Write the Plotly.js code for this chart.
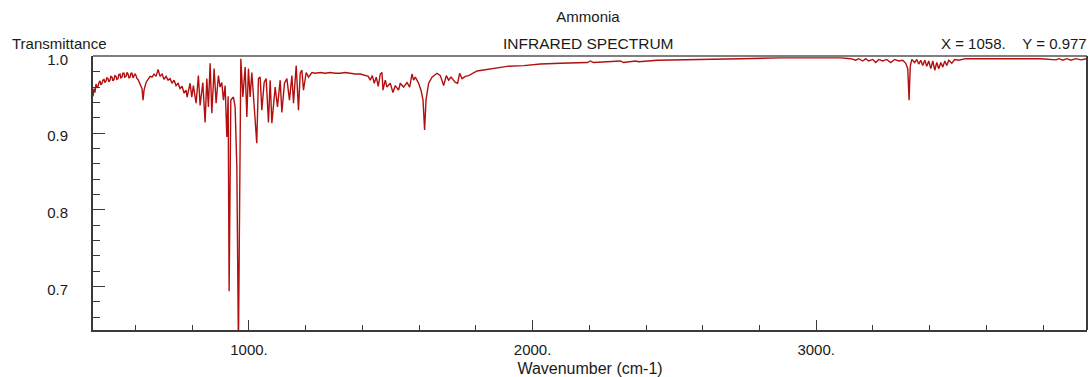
<!DOCTYPE html>
<html>
<head>
<meta charset="utf-8">
<script src="https://cdn.plot.ly/plotly-3.0.1.min.js"></script>
<style>
  html, body { margin: 0; padding: 0; background: #ffffff; }
  #chart { width: 1089px; height: 377px; }
</style>
</head>
<body>
<div id="chart"></div>
<script>
// Wavenumber (cm-1) values
const wavenumber = [
  450, 453.5, 457, 460.6, 464, 467.6, 471, 474.7, 478, 481.8, 485, 488.8, 492, 495.9, 499, 502.9, 506,
  510, 513, 517.1, 520, 524.1, 527, 531.2, 534, 538.2, 541, 545.3, 548, 552.3, 555, 559.4, 562,
  566.4, 570, 573.5, 577, 580.6, 584, 587.6, 591, 594.7, 598, 601.8, 605, 608.8, 612, 615.9, 619,
  622.9, 626.5, 630,
  637.1, 644.1, 651.2, 658.2, 665.3, 672.4, 679.4, 686.5, 693.5, 700.6, 707.6, 714.7, 721.8, 728.8,
  735.9, 742.9, 750, 757.1, 764.1, 771.2, 778.2, 781.8,
  785.3, 792.4, 798.3, 804, 813.5, 821.6, 827.6, 837.2, 845.3, 851.3, 857, 863, 869, 877.1, 884.1,
  892.2, 898.2, 904.2, 909.9, 915.9, 921.9, 926.5, 930, 936, 945.2, 951.2, 957.2, 962.8, 971.3,
  978.4, 986.5, 992.5, 998.1, 1004.1, 1010.1, 1018.2, 1027.4, 1033.4, 1039.4, 1045.4, 1053.5,
  1060.6, 1068.7, 1074.7, 1080.7, 1092.4, 1100.5, 1110, 1116, 1125.2, 1133.7, 1142.8, 1151.3,
  1157, 1166.5, 1174.6, 1180.6, 1186.6, 1192.2, 1201.8, 1209.9, 1221.9,
  1233.5, 1251.2, 1268.8, 1286.5, 1304.1, 1321.8, 1339.4, 1357.1, 1374.7, 1392.4, 1410, 1420.6,
  1427.6, 1434.7, 1441.8, 1448.8, 1455.9, 1462.9, 1469, 1472.5, 1480.6, 1486.6, 1498.2, 1507.7,
  1515.9, 1527.5, 1533.5, 1545.2, 1557.2, 1566.4, 1574.9, 1580.5, 1586.6, 1598.1, 1606.6, 1613.7,
  1619.3, 1624.2, 1633.4, 1645.4, 1663, 1674.7, 1686.4, 1695.9, 1704, 1712.5, 1727.6, 1735.7,
  1742.8, 1751.3, 1762.9, 1774.6, 1804.3, 1851.2, 1910, 1968.7, 2027.6, 2098.2, 2193.5, 2204.1,
  2214.7, 2310, 2320.6, 2362.9, 2373.5, 2440.6, 2557, 2638.2, 2733.5, 2874.7,
  2945.3, 3015.9, 3086.5, 3121.8, 3139.4, 3150, 3164.1, 3174.7, 3185.3, 3199.4, 3210, 3220.6,
  3234.7, 3248.8, 3262.9, 3277.1, 3291.2, 3305.3, 3315.9, 3323, 3327.6, 3331.8, 3337.1, 3347.7,
  3354.7, 3361.8, 3368.8, 3375.9, 3382.9, 3390, 3397.1, 3404.1, 3411.2, 3418.2, 3425.3, 3432.4,
  3439.4, 3446.5, 3453.5, 3460.6, 3467.6, 3478.2, 3488.8, 3502.9, 3527.6, 3580.6, 3651.2, 3721.8,
  3792.4, 3845.3, 3855.9, 3870, 3884.1, 3898.2, 3915.9, 3933.5, 3955
];

// Transmittance values
const transmittance = [
  0.948, 0.958, 0.953, 0.964, 0.959, 0.961, 0.966, 0.968, 0.963, 0.965, 0.969, 0.970, 0.966, 0.968, 0.972,
  0.971, 0.967, 0.969, 0.974, 0.973, 0.968, 0.970, 0.975, 0.974, 0.970, 0.971, 0.976, 0.977, 0.972,
  0.973, 0.978, 0.978, 0.973, 0.974, 0.979, 0.977, 0.972, 0.973, 0.978, 0.978, 0.972, 0.974, 0.977,
  0.975, 0.971, 0.970, 0.967, 0.966, 0.962, 0.958, 0.943, 0.956,
  0.966, 0.971, 0.974, 0.973, 0.977, 0.974, 0.983, 0.974, 0.977, 0.970, 0.974, 0.969, 0.971, 0.965,
  0.969, 0.962, 0.965, 0.958, 0.961, 0.952, 0.956, 0.947,
  0.953, 0.965, 0.947, 0.962, 0.939, 0.975, 0.936, 0.966, 0.914, 0.971, 0.934, 0.991, 0.926, 0.984, 0.939,
  0.975, 0.960, 0.966, 0.943, 0.962, 0.895, 0.948, 0.694, 0.943, 0.947, 0.934, 0.856, 0.620, 0.997,
  0.947, 0.986, 0.921, 0.984, 0.947, 0.979, 0.934, 0.887, 0.971, 0.973, 0.930, 0.966,
  0.971, 0.914, 0.969, 0.913, 0.960, 0.934, 0.969, 0.927, 0.965, 0.971, 0.943, 0.975,
  0.939, 0.988, 0.930, 0.978, 0.982, 0.956, 0.979, 0.973, 0.979,
  0.978, 0.979, 0.978, 0.979, 0.978, 0.978, 0.979, 0.978, 0.977, 0.977, 0.975, 0.974,
  0.969, 0.975, 0.965, 0.973, 0.961, 0.977, 0.979, 0.956, 0.969, 0.960, 0.965, 0.953,
  0.962, 0.956, 0.965, 0.960, 0.966, 0.960, 0.977, 0.969, 0.973, 0.965, 0.956, 0.943,
  0.904, 0.943, 0.965, 0.973, 0.978, 0.975, 0.962, 0.975, 0.969, 0.973, 0.966, 0.965,
  0.978, 0.971, 0.974, 0.975, 0.981, 0.984, 0.987, 0.988, 0.990, 0.991, 0.992, 0.994,
  0.992, 0.994, 0.992, 0.994, 0.993, 0.995, 0.996, 0.997, 0.997, 0.998,
  0.998, 0.998, 0.998, 0.997, 0.995, 0.997, 0.994, 0.997, 0.994, 0.996, 0.992, 0.996,
  0.994, 0.996, 0.992, 0.996, 0.994, 0.995, 0.991, 0.984, 0.943, 0.987, 0.996, 0.992,
  0.996, 0.990, 0.995, 0.988, 0.995, 0.987, 0.994, 0.984, 0.994, 0.982, 0.992, 0.984,
  0.992, 0.986, 0.994, 0.988, 0.995, 0.991, 0.996, 0.995, 0.997, 0.997, 0.997, 0.997,
  0.997, 0.9955, 0.997, 0.995, 0.997, 0.995, 0.997, 0.9955, 0.997
];

const chartTitle = "Ammonia";
const subTitle = "INFRARED SPECTRUM";
const yLabel = "Transmittance";
const xLabel = "Wavenumber (cm-1)";
const cursorReadout = "X = 1058.\u00a0\u00a0\u00a0\u00a0Y = 0.977";

const FONT = "Liberation Sans, Arial, Helvetica, sans-serif";
const TXT = "#1a1a1a";
const AX = "#3a3a3a";

const trace = {
  type: "scatter",
  mode: "lines",
  x: wavenumber,
  y: transmittance,
  line: { color: "#b30f0f", width: 1.4 },
  hoverinfo: "skip"
};

const layout = {
  width: 1089,
  height: 377,
  margin: { l: 93, r: 2, t: 56, b: 47, pad: 0 },
  paper_bgcolor: "#ffffff",
  plot_bgcolor: "#ffffff",
  showlegend: false,
  font: { family: FONT, size: 15, color: TXT },
  title: {
    text: chartTitle,
    font: { family: FONT, size: 15, color: TXT },
    xref: "paper", x: 0.498, xanchor: "center",
    yref: "container", y: 0.955, yanchor: "middle"
  },
  xaxis: {
    range: [450, 3955],
    tickmode: "linear", tick0: 0, dtick: 1000,
    ticksuffix: ".",
    ticks: "inside", ticklen: 10, tickwidth: 1, tickcolor: AX,
    minor: { ticks: "inside", ticklen: 5, tickwidth: 1, tickcolor: AX, tick0: 0, dtick: 200, showgrid: false },
    showline: true, linecolor: AX, linewidth: 2,
    showgrid: false, zeroline: false,
    ticklabelstandoff: 5,
    tickfont: { family: FONT, size: 15, color: TXT },
    title: { text: xLabel, standoff: 6, font: { family: FONT, size: 16, color: TXT } },
    automargin: false, fixedrange: true
  },
  yaxis: {
    range: [0.6435, 1.0005],
    tickmode: "linear", tick0: 0, dtick: 0.1,
    tickformat: ".1f",
    ticks: "inside", ticklen: 12, tickwidth: 1, tickcolor: AX,
    minor: { ticks: "inside", ticklen: 7, tickwidth: 1, tickcolor: AX, tick0: 0, dtick: 0.02, showgrid: false },
    showline: true, linecolor: AX, linewidth: 2,
    showgrid: false, zeroline: false,
    ticklabelstandoff: 20,
    ticklabelshift: 3,
    tickfont: { family: FONT, size: 15, color: TXT },
    automargin: false, fixedrange: true
  },
  shapes: [
    { type: "line", xref: "paper", yref: "paper", x0: 0, x1: 1, y0: 1, y1: 1,
      line: { color: "#7f7f7f", width: 2 } },
    { type: "line", xref: "paper", yref: "paper", x0: 1, x1: 1, y0: 0, y1: 1,
      line: { color: "#3a3a3a", width: 2 } }
  ],
  annotations: [
    { text: subTitle, xref: "paper", yref: "paper", x: 0.498, y: 1.0456,
      xanchor: "center", yanchor: "middle", showarrow: false,
      font: { family: FONT, size: 15.5, color: TXT } },
    { text: yLabel, xref: "paper", yref: "paper", x: -0.0835, y: 1.0474,
      xanchor: "left", yanchor: "middle", showarrow: false,
      font: { family: FONT, size: 15, color: TXT } },
    { text: cursorReadout, xref: "paper", yref: "paper", x: 1.002, y: 1.0456,
      xanchor: "right", yanchor: "middle", showarrow: false,
      font: { family: FONT, size: 15, color: TXT } }
  ]
};

Plotly.newPlot("chart", [trace], layout, { displayModeBar: false, staticPlot: true });
</script>
</body>
</html>
